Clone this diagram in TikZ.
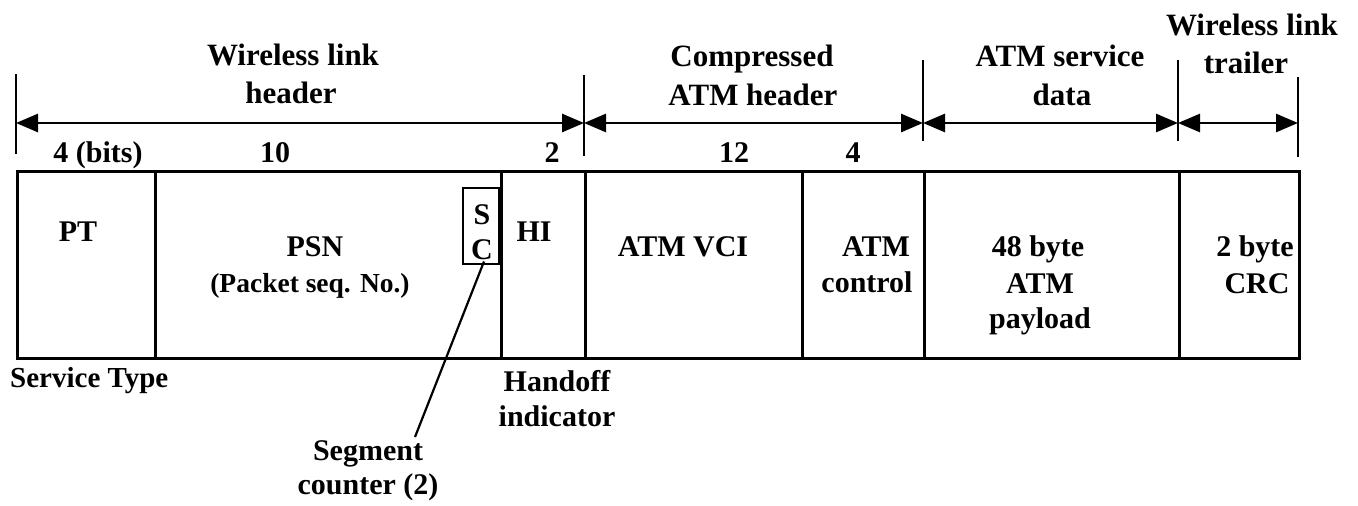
\documentclass[tikz,border=0pt]{standalone}
\usepackage{fontspec}
\setmainfont{Liberation Serif}
\usetikzlibrary{arrows.meta}
\begin{document}
\begin{tikzpicture}[x=1pt,y=-1pt,
  txt/.style={font=\bfseries\fontsize{30}{36}\selectfont, inner sep=0pt, anchor=base},
  smtxt/.style={font=\bfseries\fontsize{27.5}{34}\selectfont, inner sep=0pt, anchor=base},
  toptxt/.style={font=\bfseries\fontsize{31}{38}\selectfont, inner sep=0pt, anchor=base},
  field/.style={draw, line width=2.6pt, inner sep=0pt, anchor=north west, minimum height=187pt},
  tickline/.style={line width=2pt},
  dimline/.style={line width=2.8pt, {Triangle[length=22pt,width=18pt]}-{Triangle[length=22pt,width=18pt]}},
  leader/.style={line width=2.2pt}]
\useasboundingbox (0,0) rectangle (1358,506);

% fields
\node[field, minimum width=138pt] (fPT)  at (16,170)  {};
\node[field, minimum width=346pt] (fPSN) at (154,170) {};
\node[field, minimum width=84pt]  (fHI)  at (500,170) {};
\node[field, minimum width=217pt] (fVCI) at (584,170) {};
\node[field, minimum width=122pt] (fCTL) at (801,170) {};
\node[field, minimum width=255pt] (fPAY) at (923,170) {};
\node[field, minimum width=120pt] (fCRC) at (1178,170) {};
\node[draw, line width=2.2pt, inner sep=0pt, anchor=north east, minimum width=36pt, minimum height=76pt] (sc) at (500,187) {};

% ticks
\coordinate (t0a) at (16,74);   \coordinate (t0b) at (16,154);
\coordinate (t1a) at (584,75);  \coordinate (t1b) at (584,156);
\coordinate (t2a) at (923,60);  \coordinate (t2b) at (923,141);
\coordinate (t3a) at (1178,60); \coordinate (t3b) at (1178,141);
\coordinate (t4a) at (1298,77); \coordinate (t4b) at (1298,157);
\draw[tickline] (t0a) -- (t0b);
\draw[tickline] (t1a) -- (t1b);
\draw[tickline] (t2a) -- (t2b);
\draw[tickline] (t3a) -- (t3b);
\draw[tickline] (t4a) -- (t4b);

% dimension arrows
\coordinate (d0) at (16,123);
\coordinate (d1) at (584,123);
\coordinate (d2) at (923,123);
\coordinate (d3) at (1178,123);
\coordinate (d4) at (1298,123);
\draw[dimline] (d0) -- (d1);
\draw[dimline] (d1) -- (d2);
\draw[dimline] (d2) -- (d3);
\draw[dimline] (d3) -- (d4);

% top labels
\node[toptxt] (wlh1) at (293,65) {Wireless link};
\node[toptxt] (wlh2) at (291,103) {header};
\node[toptxt] (cah1) at (752,66) {Compressed};
\node[toptxt] (cah2) at (753,105) {ATM header};
\node[toptxt] (asd1) at (1060,66) {ATM service};
\node[toptxt] (asd2) at (1062,105) {data};
\node[toptxt] (wlt1) at (1252,35) {Wireless link};
\node[toptxt] (wlt2) at (1246,73) {trailer};

% bit counts
\node[txt] (b4)  at (98,162)  {4 (bits)};
\node[txt] (b10) at (275,162) {10};
\node[txt] (b2)  at (552,162) {2};
\node[txt] (b12) at (734,162) {12};
\node[txt] (b4b) at (853,162) {4};

% field contents
\node[txt] (pt)   at (78,241)  {PT};
\node[txt] (psn1) at (315,256) {PSN};
\node[smtxt] (psn2) at (310,292) {(Packet seq. No.)};
\node[txt] (s)    at (482,224) {S};
\node[txt] (c)    at (482,259) {C};
\node[txt] (hi)   at (534,241) {HI};
\node[txt] (vci)  at (683,256) {ATM VCI};
\node[txt] (ctl1) at (876,256) {ATM};
\node[txt] (ctl2) at (867,292) {control};
\node[txt] (pay1) at (1038,256) {48 byte};
\node[txt] (pay2) at (1040,293) {ATM};
\node[txt] (pay3) at (1040,328) {payload};
\node[txt] (crc1) at (1255,256) {2 byte};
\node[txt] (crc2) at (1257,293) {CRC};

% bottom labels
\node[txt, font=\bfseries\fontsize{29}{34}\selectfont, anchor=base west] (st) at (10,387) {Service Type};
\node[txt] (ho1) at (557,391) {Handoff};
\node[txt] (ho2) at (557,426) {indicator};
\node[txt] (sg1) at (368,460) {Segment};
\node[txt] (sg2) at (368,494) {counter (2)};

% leader
\coordinate (ldend) at (415,437);
\draw[leader] (c.south) ++(2,2) -- (ldend);
\end{tikzpicture}
\end{document}
